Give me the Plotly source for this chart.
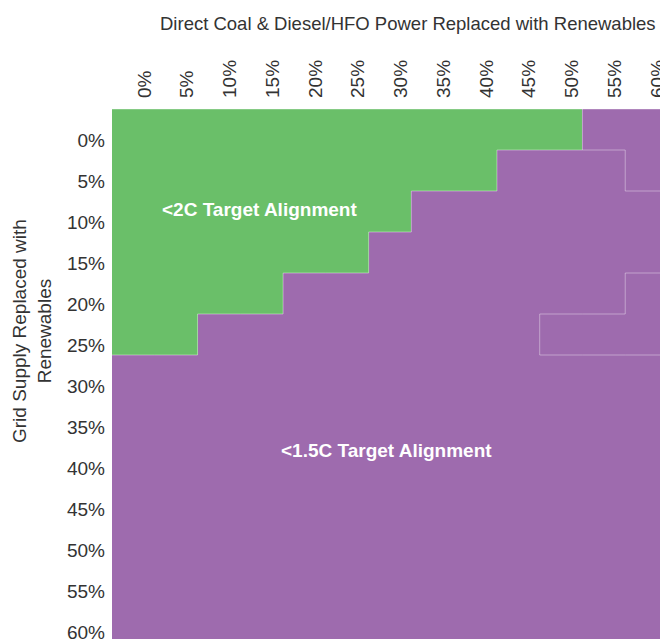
import plotly.graph_objects as go

# ---- data ----
col_labels = ["0%", "5%", "10%", "15%", "20%", "25%", "30%", "35%", "40%", "45%", "50%", "55%", "60%"]
row_labels = ["0%", "5%", "10%", "15%", "20%", "25%", "30%", "35%", "40%", "45%", "50%", "55%", "60%"]
# number of leading columns that are in the <2C region for each row
green_cols_per_row = [11, 9, 7, 6, 4, 2, 0, 0, 0, 0, 0, 0, 0]
# purple sub-regions (class ids): 1 = top-right pocket, 3 = island; everything else purple = 2
pocket_cells = [(0, 11), (0, 12), (1, 12)]
island_cells = [(4, 12), (5, 10), (5, 11), (5, 12)]

GREEN = "#6abf69"
PURPLE = "#9e6bae"
TXT = "#333333"
FONT = "Liberation Sans, Arial, Helvetica, sans-serif"

n_r, n_c = len(row_labels), len(col_labels)
z = []
for r in range(n_r):
    row = []
    for c in range(n_c):
        row.append(0 if c < green_cols_per_row[r] else 2)
    z.append(row)
for r, c in pocket_cells:
    z[r][c] = 1
for r, c in island_cells:
    z[r][c] = 3

fig = go.Figure()
fig.add_trace(go.Heatmap(
    z=z, x=list(range(n_c)), y=list(range(n_r)),
    zmin=0, zmax=3,
    colorscale=[[0, GREEN], [0.16, GREEN], [0.17, PURPLE], [1, PURPLE]],
    showscale=False, hoverinfo="skip",
))

# region boundary lines derived from the class matrix
line_col = "rgba(255,255,255,0.38)"
segs = []
for r in range(n_r):
    for c in range(n_c):
        if c + 1 < n_c and z[r][c] != z[r][c + 1]:
            segs.append((c + 0.5, r - 0.5, c + 0.5, r + 0.5))
        if r + 1 < n_r and z[r][c] != z[r + 1][c]:
            segs.append((c - 0.5, r + 0.5, c + 0.5, r + 0.5))
segs.append((-0.5, -0.5, n_c - 0.5, -0.5))
segs.append((n_c - 0.5, -0.5, n_c - 0.5, n_r - 0.5))
shapes = [dict(type="line", x0=a, y0=b, x1=cc, y1=d, xref="x", yref="y",
               line=dict(color=line_col, width=1)) for a, b, cc, d in segs]

# page has an 8px body margin; figure coordinates = page coordinates - 8
OFF = 8
L, T = 112 - OFF, 109 - OFF
W, H = 668 - OFF, 639 - OFF
pw, ph = W - L, H - T
rowpx = 41.0
y_bottom = -0.5 + ph / rowpx

def px_to_paper(px, py):
    px -= OFF
    py -= OFF
    return (px - L) / pw, (H - py) / ph

ax_t_x, ax_t_y = px_to_paper(408, 23)
ay_t_x, ay_t_y = px_to_paper(32, 331)

fig.update_layout(
    width=W, height=H,
    margin=dict(l=L, r=0, t=T, b=0, pad=0, autoexpand=False),
    paper_bgcolor="white", plot_bgcolor="white",
    font=dict(family=FONT, color=TXT, size=18),
    shapes=shapes,
    xaxis=dict(side="top", range=[-0.5, n_c - 0.5], tickvals=list(range(n_c)), ticktext=col_labels,
               tickangle=-90, ticks="", showgrid=False, zeroline=False, showline=False,
               automargin=False, ticklabelshift=11, ticklabelstandoff=10, ticklabeloverflow="allow",
               tickfont=dict(family=FONT, size=19, color=TXT)),
    yaxis=dict(range=[y_bottom, -0.5], tickvals=list(range(n_r)), ticktext=row_labels,
               ticks="", showgrid=False, zeroline=False, showline=False,
               automargin=False, ticklabelshift=-11, ticklabelstandoff=6, ticklabeloverflow="allow",
               tickfont=dict(family=FONT, size=19, color=TXT)),
    annotations=[
        dict(text="Direct Coal & Diesel/HFO Power Replaced with Renewables", xref="paper", yref="paper",
             x=ax_t_x, y=ax_t_y, xanchor="center", yanchor="middle", showarrow=False,
             font=dict(family=FONT, size=18.5, color=TXT)),
        dict(text="Grid Supply Replaced with<br>Renewables", xref="paper", yref="paper",
             x=ay_t_x, y=ay_t_y, xanchor="center", yanchor="middle", showarrow=False, textangle=-90,
             font=dict(family=FONT, size=19, color=TXT)),
        dict(text="<b><2C Target Alignment</b>", x=2.96, y=1.94, xref="x", yref="y",
             showarrow=False, font=dict(family=FONT, size=19, color="white")),
        dict(text="<b><1.5C Target Alignment</b>", x=5.91, y=7.82, xref="x", yref="y",
             showarrow=False, font=dict(family=FONT, size=19, color="white")),
    ],
)

fig.write_html("out.html")
